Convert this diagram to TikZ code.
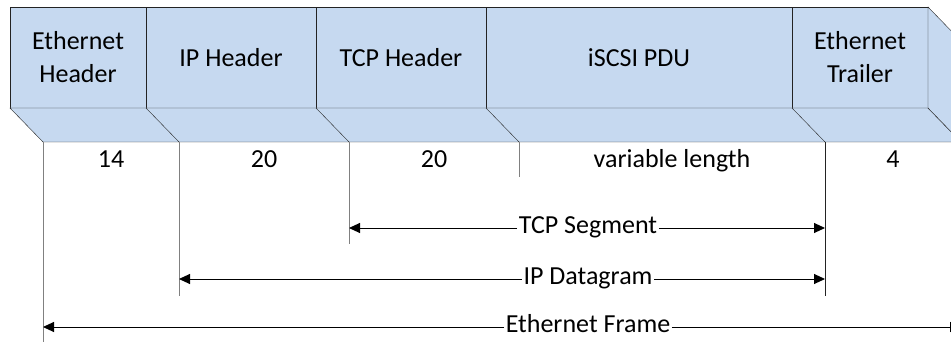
\documentclass[tikz,border=0pt]{standalone}
\usepackage{fontspec}
\setmainfont{Carlito}
\usetikzlibrary{positioning,calc,arrows.meta}
\definecolor{fieldblue}{RGB}{198,217,240}
\definecolor{edgegray}{RGB}{35,35,35}

\begin{document}
\begin{tikzpicture}[x=1pt, y=-1pt, node distance=0pt,
  field/.style={rectangle, draw=edgegray, fill=fieldblue, minimum height=101pt,
                outer sep=0pt, inner sep=0pt, align=center,
                font=\fontsize{26}{33}\selectfont},
  sizelabel/.style={inner sep=0pt, text height=17pt, text depth=6pt,
                    font=\fontsize{26}{30}\selectfont},
  spanlabel/.style={inner sep=1.5pt, text height=17pt, text depth=6pt,
                    font=\fontsize{26}{30}\selectfont},
  lead/.style={draw=gray, line width=0.9pt},
  span/.style={-{Triangle[length=11pt,width=10pt]}, line width=0.9pt}]

\useasboundingbox (0,0) rectangle (951,342);
\clip (0,0) rectangle (951,342);

% front faces of the frame fields
\node[field, minimum width=136pt] (eth) at (78,57.5) {Ethernet\\Header};
\node[field, minimum width=170pt, right=of eth] (ip) {IP Header};
\node[field, minimum width=170pt, right=of ip] (tcp) {TCP Header};
\node[field, minimum width=306pt, right=of tcp] (pdu) {iSCSI PDU};
\node[field, minimum width=136pt, right=of pdu] (trl) {Ethernet\\Trailer};

% underside and end face
\draw[draw=edgegray, fill=fieldblue] (eth.south west) -- (trl.south east)
  -- ++(33,34) -- ($(eth.south west)+(33,34)$) -- cycle;
\draw[draw=edgegray, fill=fieldblue] (trl.north east) -- ++(33,34) -- ++(0,101)
  -- (trl.south east) -- cycle;
\foreach \n in {ip,tcp,pdu,trl}
  \draw[edgegray] (\n.south west) -- ++(33,34);

% feet of the field borders
\coordinate (ethfoot) at ($(eth.south west)+(33,34)$);
\coordinate (ipfoot) at ($(ip.south west)+(33,34)$);
\coordinate (tcpfoot) at ($(tcp.south west)+(33,34)$);
\coordinate (pdufoot) at ($(pdu.south west)+(33,34)$);
\coordinate (trlfoot) at ($(trl.south west)+(33,34)$);
\coordinate (endfoot) at ($(trl.south east)+(33,34)$);

\draw[lead] (ethfoot) -- ++(0,200);
\draw[lead] (ipfoot) -- ++(0,154);
\draw[lead] (tcpfoot) -- ++(0,102);
\draw[lead] (pdufoot) -- ++(0,35);
\draw[lead, draw=edgegray] (trlfoot) -- ++(0,154);

% byte counts
\node[sizelabel] (ethsize) at ($(ethfoot)!0.5!(ipfoot)+(0,20)$) {14};
\node[sizelabel] (ipsize) at ($(ipfoot)!0.5!(tcpfoot)+(0,20)$) {20};
\node[sizelabel] (tcpsize) at ($(tcpfoot)!0.5!(pdufoot)+(0,20)$) {20};
\node[sizelabel] (pdusize) at ($(pdufoot)!0.5!(trlfoot)+(0,20)$) {variable length};
\node[sizelabel] (trlsize) at ($(trlfoot)!0.5!(endfoot)+(0,20)$) {4};

% spans
\node[spanlabel] (seg) at (588,228) {TCP Segment};
\node[spanlabel] (dgram) at (588,279) {IP Datagram};
\node[spanlabel] (frame) at (588,327) {Ethernet Frame};

\draw[span] (seg) -- (seg -| tcpfoot);
\draw[span] (seg) -- (seg -| trlfoot);
\draw[span] (dgram) -- (dgram -| ipfoot);
\draw[span] (dgram) -- (dgram -| trlfoot);
\draw[span] (frame) -- (frame -| ethfoot);
\draw[span] (frame) -- (frame -| endfoot);

\end{tikzpicture}
\end{document}
